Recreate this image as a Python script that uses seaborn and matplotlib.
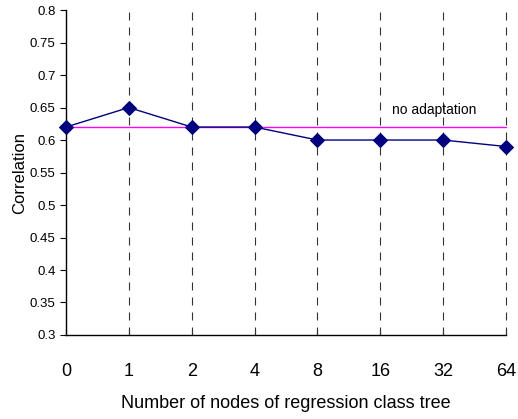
import matplotlib
matplotlib.use("Agg")
import matplotlib.pyplot as plt
import seaborn as sns
import pandas as pd

categories = ["0", "1", "2", "4", "8", "16", "32", "64"]
correlation = [0.62, 0.65, 0.62, 0.62, 0.60, 0.60, 0.60, 0.59]
baseline_value = 0.62
baseline_label = "no adaptation"
y_ticks = [0.3, 0.35, 0.4, 0.45, 0.5, 0.55, 0.6, 0.65, 0.7, 0.75, 0.8]

sns.set_style("white")
plt.rcParams['font.family'] = ['Liberation Sans', 'DejaVu Sans']
plt.rcParams['text.color'] = 'black'
plt.rcParams['axes.labelcolor'] = 'black'
plt.rcParams['xtick.color'] = 'black'
plt.rcParams['ytick.color'] = 'black'

df = pd.DataFrame({"pos": range(len(categories)), "corr": correlation})

fig = plt.figure(figsize=(5.18, 4.19), dpi=100)
ax = fig.add_axes([0.1274, 0.2005, 0.8494, 0.7755])

for i in range(1, len(categories)):
    ax.axvline(i, color="#333333", linestyle=(0, (7.2, 6.3)), linewidth=0.8, zorder=1)

ax.plot([0, len(categories) - 1], [baseline_value, baseline_value], color="#ff00ff", linewidth=1.0, zorder=2)

sns.lineplot(data=df, x="pos", y="corr", ax=ax, color="#000080", linewidth=1.0,
             marker="D", markersize=7, markeredgecolor="#000080", zorder=3)

ax.text(5.86, 0.646, baseline_label, fontsize=10, ha="center", va="center", color="black")

ax.set_xlim(0, len(categories) - 1)
ax.set_ylim(0.3, 0.8)
ax.set_xticks(range(len(categories)))
ax.set_xticklabels(categories, fontsize=13)
ax.set_yticks(y_ticks)
ax.set_yticklabels([f"{t:g}" for t in y_ticks], fontsize=9.5)
ax.tick_params(axis="y", direction="out", length=4, width=0.8, left=True, colors="black")
ax.tick_params(axis="x", direction="in", length=4, width=0.8, bottom=True, pad=20, colors="black")

ax.set_xlabel("Number of nodes of regression class tree", fontsize=13, labelpad=11, color="black")
ax.set_ylabel("Correlation", fontsize=12, labelpad=2, color="black")

for s in ["top", "right"]:
    ax.spines[s].set_visible(False)
for s in ["left", "bottom"]:
    ax.spines[s].set_color("black")
    ax.spines[s].set_linewidth(1.0)
for line in ax.lines:
    line.set_clip_on(False)

fig.savefig("out.png", dpi=100)
